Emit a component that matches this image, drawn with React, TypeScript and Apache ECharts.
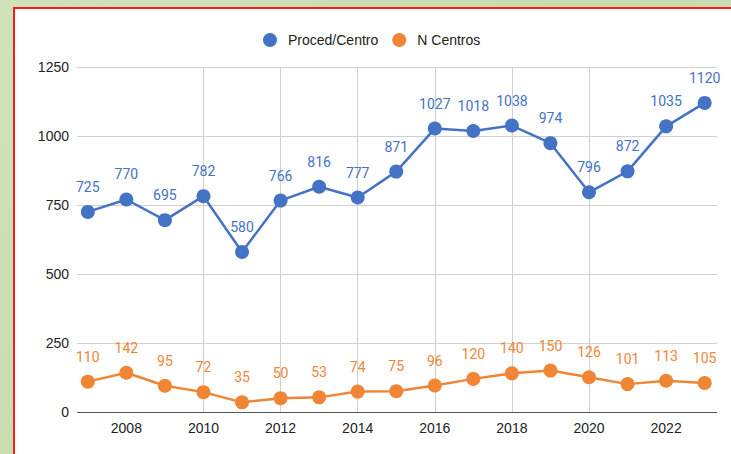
import React, { useEffect, useRef } from "react";
import * as echarts from "echarts";

const years = [2007, 2008, 2009, 2010, 2011, 2012, 2013, 2014, 2015, 2016, 2017, 2018, 2019, 2020, 2021, 2022, 2023];
const procedCentro = [725, 770, 695, 782, 580, 766, 816, 777, 871, 1027, 1018, 1038, 974, 796, 872, 1035, 1120];
const nCentros = [110, 142, 95, 72, 35, 50, 53, 74, 75, 96, 120, 140, 150, 126, 101, 113, 105];
const xTickYears = [2008, 2010, 2012, 2014, 2016, 2018, 2020, 2022];
const seriesNames = ["Proced/Centro", "N Centros"];

const BLUE = "#4472c4";
const ORANGE = "#ef8535";
const FONT = "Arial, 'Liberation Sans', sans-serif";

export default function App() {
  const ref = useRef<HTMLDivElement>(null);
  useEffect(() => {
    if (!ref.current) return;
    const chart = echarts.init(ref.current, null, { renderer: "svg" });
    const labelStyle = (color: string) => ({
      show: true,
      position: "top",
      distance: 11,
      color,
      fontSize: 14,
      fontFamily: "Roboto, Arial, sans-serif",
      formatter: (p: any) => String(p.value[1]),
    });
    chart.setOption({
      animation: false,
      backgroundColor: "transparent",
      legend: {
        top: 28,
        left: 258,
        icon: "circle",
        itemWidth: 26,
        itemHeight: 14,
        itemGap: 14,
        textStyle: { color: "#222", fontSize: 14, fontFamily: FONT },
        data: seriesNames,
      },
      grid: { left: 77, right: 14, top: 67, bottom: 42, containLabel: false },
      xAxis: {
        type: "value",
        min: 2006.72,
        max: 2023.32,
        axisLine: { show: false },
        axisTick: { show: false, customValues: xTickYears },
        axisLabel: {
          customValues: xTickYears,
          formatter: (v: number) => String(v),
          color: "#222",
          fontSize: 14,
          margin: 9,
          fontFamily: FONT,
        },
        splitLine: { show: true, showMinLine: false, showMaxLine: false, lineStyle: { color: "#d0d0d0", width: 1 } },
      },
      yAxis: {
        type: "value",
        min: 0,
        max: 1250,
        interval: 250,
        axisLine: { show: false },
        axisTick: { show: false },
        axisLabel: { formatter: (v: number) => String(v), color: "#222", fontSize: 14, margin: 8, fontFamily: FONT },
        splitLine: { lineStyle: { color: "#d0d0d0", width: 1 } },
      },
      series: [
        {
          name: seriesNames[0],
          type: "line",
          data: years.map((y, i) => [y, procedCentro[i]]),
          symbol: "circle",
          symbolSize: 14,
          itemStyle: { color: BLUE },
          lineStyle: { color: BLUE, width: 2.5 },
          label: labelStyle(BLUE),
          z: 3,
        },
        {
          name: seriesNames[1],
          type: "line",
          data: years.map((y, i) => [y, nCentros[i]]),
          symbol: "circle",
          symbolSize: 14,
          itemStyle: { color: ORANGE },
          lineStyle: { color: ORANGE, width: 2.5 },
          label: labelStyle(ORANGE),
          z: 3,
          markLine: {
            silent: true,
            symbol: "none",
            label: { show: false },
            lineStyle: { color: "#555", width: 1, type: "solid" },
            data: [{ yAxis: 0 }],
            z: 2,
          },
        },
      ],
    });
    return () => chart.dispose();
  }, []);

  return (
    <div style={{ position: "fixed", left: 0, top: 0, width: 731, height: 454, background: "linear-gradient(135deg, #cfe3bb 0%, #c5dcae 50%, #cfe2bc 100%)", overflow: "hidden" }}>
      <div style={{ position: "absolute", left: 13, top: 7, width: 718, height: 447, background: "#fff" }} />
      <div style={{ position: "absolute", left: 13, top: 7, width: 2, height: 447, background: "#ff1a1a" }} />
      <div style={{ position: "absolute", left: 13, top: 7, width: 718, height: 2, background: "#ff1a1a" }} />
      <div ref={ref} style={{ position: "absolute", left: 0, top: 0, width: 731, height: 454 }} />
    </div>
  );
}
